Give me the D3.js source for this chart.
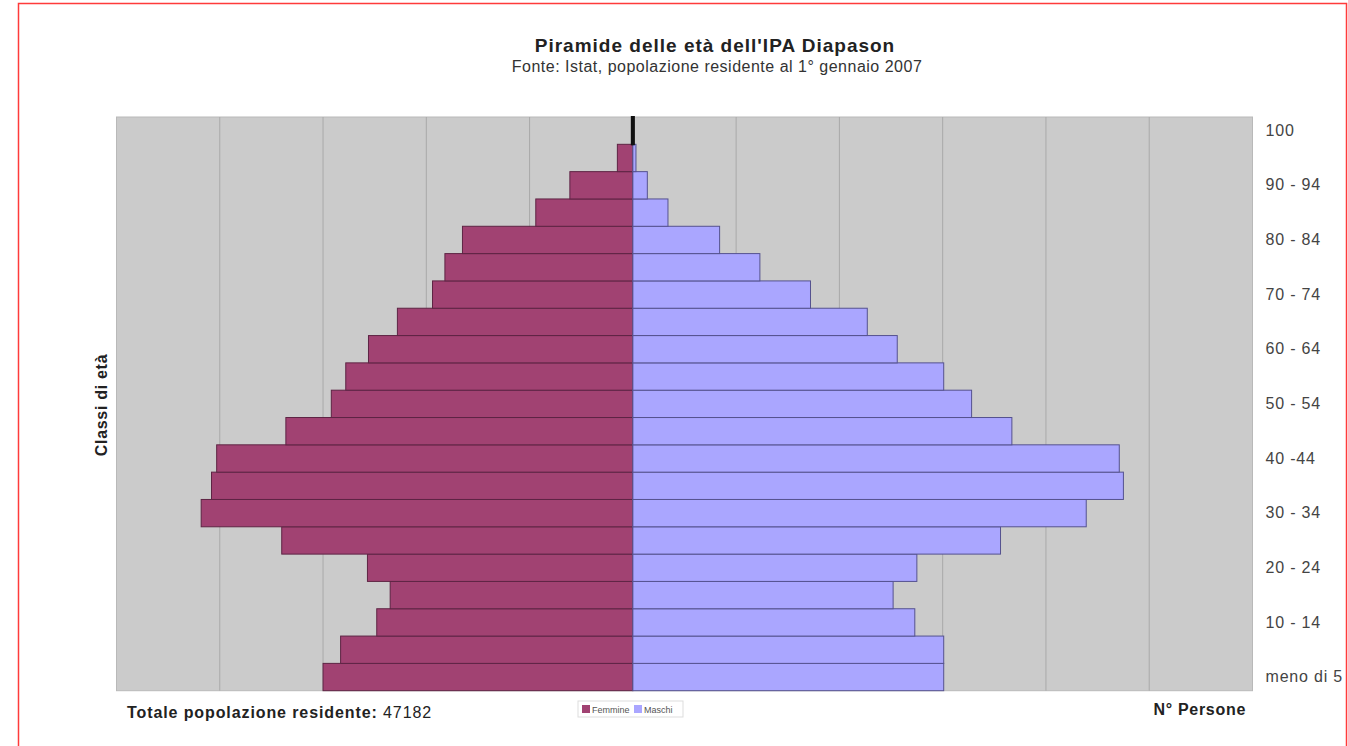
<!DOCTYPE html>
<html>
<head>
<meta charset="utf-8">
<script src="https://cdn.jsdelivr.net/npm/d3@7"></script>
<style>
  body { margin: 0; background: #fff; }
  svg { display: block; font-family: "Liberation Sans", Arial, sans-serif; }
</style>
</head>
<body>
<svg id="chart"></svg>
<script>
const WIDTH = 1348;
const HEIGHT = 746;

// age classes, from youngest (bottom) to oldest (top)
const classes = [
  "meno di 5", "5 - 9", "10 - 14", "15 - 19", "20 - 24", "25 - 29", "30 - 34",
  "35 - 39", "40 -44", "45 - 49", "50 - 54", "55 - 59", "60 - 64", "65 - 69",
  "70 - 74", "75 - 79", "80 - 84", "85 - 89", "90 - 94", "95 - 99", "100"
];
// share of total residents (%)
const femmine = [
  3.00, 2.83, 2.48, 2.35, 2.57, 3.40, 4.18, 4.08, 4.03, 3.36, 2.92,
  2.78, 2.56, 2.28, 1.94, 1.82, 1.65, 0.94, 0.61, 0.15, 0.01
];
const maschi = [
  3.01, 3.01, 2.73, 2.52, 2.75, 3.56, 4.39, 4.75, 4.71, 3.67, 3.28,
  3.01, 2.56, 2.27, 1.72, 1.23, 0.84, 0.34, 0.14, 0.03, 0.01
];
const shownLabels = classes.filter((d, i) => i % 2 === 0);
const totale = 47182;

const svg = d3.select("#chart").attr("width", WIDTH).attr("height", HEIGHT);

/* red frame of the original capture */
svg.append("path")
  .attr("d", `M18.5,${HEIGHT} V3.5 H1346.5 V${HEIGHT}`)
  .attr("fill", "none")
  .attr("stroke", "#ff3b3b")
  .attr("stroke-width", 1.5);

const x = d3.scaleLinear().domain([-5, 6]).range([116.5, 1252.5]);
const y = d3.scaleBand().domain(classes.slice().reverse()).range([117, 690.7]).padding(0);

/* plot background */
svg.append("rect")
  .attr("x", x(-5)).attr("y", 117)
  .attr("width", x(6) - x(-5)).attr("height", 690.7 - 117)
  .attr("fill", "#cbcbcb")
  .attr("stroke", "#b9b9b9");

// vertical grid
svg.append("g")
  .selectAll("line")
  .data(d3.range(-4, 6).filter((d) => d !== 0))
  .join("line")
  .attr("x1", (d) => x(d)).attr("x2", (d) => x(d))
  .attr("y1", 117).attr("y2", 690.7)
  .attr("stroke", "#a9a9a9")
  .attr("stroke-width", 1);

const rows = classes.map((c, i) => ({ c: c, f: femmine[i], m: maschi[i] }));

// femmine to the left
svg.append("g")
  .selectAll("rect")
  .data(rows)
  .join("rect")
  .attr("x", (d) => x(-d.f))
  .attr("y", (d) => y(d.c))
  .attr("width", (d) => x(0) - x(-d.f))
  .attr("height", y.bandwidth())
  .attr("fill", "#a14272")
  .attr("stroke", (d) => (d.c === "100" ? "#111" : "#5e2444"))
  .attr("stroke-width", (d) => (d.c === "100" ? 2 : 1));

// maschi to the right
svg.append("g")
  .selectAll("rect")
  .data(rows)
  .join("rect")
  .attr("x", x(0))
  .attr("y", (d) => y(d.c))
  .attr("width", (d) => x(d.m) - x(0))
  .attr("height", y.bandwidth())
  .attr("fill", "#aaa6ff")
  .attr("stroke", (d) => (d.c === "100" ? "#111" : "#55528f"))
  .attr("stroke-width", (d) => (d.c === "100" ? 2 : 1));

/* age labels on the right */
const yAxis = svg.append("g")
  .attr("transform", `translate(${x(6)},0)`)
  .call(d3.axisRight(y).tickValues(shownLabels).tickSize(0).tickPadding(13));
yAxis.select(".domain").remove();
yAxis.selectAll("text")
  .attr("fill", "#444")
  .style("font-size", "16px")
  .style("letter-spacing", "0.8px")
  .style("font-family", "'Liberation Sans', Arial, sans-serif");

/* titles */
svg.append("text")
  .attr("x", 715).attr("y", 52)
  .attr("text-anchor", "middle")
  .attr("font-size", 19).attr("font-weight", "bold").attr("fill", "#222")
  .attr("letter-spacing", 1)
  .text("Piramide delle età dell'IPA Diapason");
svg.append("text")
  .attr("x", 717).attr("y", 72)
  .attr("text-anchor", "middle")
  .attr("font-size", 16).attr("fill", "#333")
  .attr("letter-spacing", 0.5)
  .text("Fonte: Istat, popolazione residente al 1° gennaio 2007");

svg.append("text")
  .attr("transform", "translate(107,405) rotate(-90)")
  .attr("text-anchor", "middle")
  .attr("font-size", 16).attr("font-weight", "bold").attr("fill", "#222")
  .attr("letter-spacing", 0.7)
  .text("Classi di età");

const tot = svg.append("text")
  .attr("x", 127).attr("y", 718)
  .attr("font-size", 16).attr("fill", "#222")
  .attr("letter-spacing", 0.9);
tot.append("tspan").attr("font-weight", "bold").text("Totale popolazione residente: ");
tot.append("tspan").text(totale);

svg.append("text")
  .attr("x", 1246).attr("y", 715)
  .attr("text-anchor", "end")
  .attr("font-size", 16).attr("font-weight", "bold").attr("fill", "#222")
  .attr("letter-spacing", 0.7)
  .text("N° Persone");

/* legend */
const legendItems = [
  { name: "Femmine", color: "#a14272" },
  { name: "Maschi", color: "#aaa6ff" },
];
const legend = svg.append("g").attr("transform", "translate(578,701)");
legend.append("rect")
  .attr("width", 105).attr("height", 16)
  .attr("fill", "#fff").attr("stroke", "#ddd");
const li = legend.selectAll("g.item")
  .data(legendItems)
  .join("g")
  .attr("class", "item")
  .attr("transform", (d, i) => `translate(${4 + i * 52},4)`);
li.append("rect")
  .attr("width", 8).attr("height", 8)
  .attr("fill", (d) => d.color);
li.append("text")
  .attr("x", 10).attr("y", 7.5)
  .attr("font-size", 9).attr("fill", "#555")
  .text((d) => d.name);
</script>
</body>
</html>
